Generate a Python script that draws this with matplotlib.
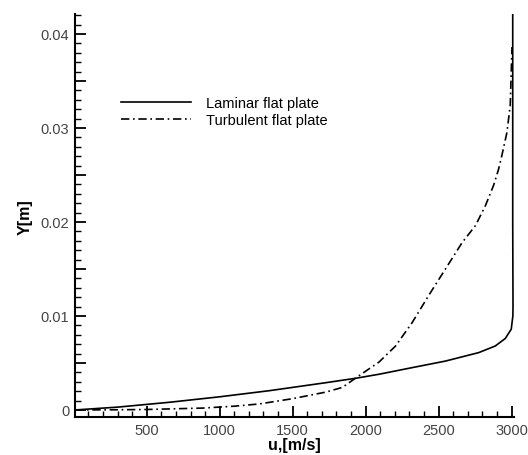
import matplotlib.pyplot as plt
import numpy as np
from matplotlib.ticker import MultipleLocator, FuncFormatter

plt.rcParams['font.family'] = ['Liberation Sans', 'DejaVu Sans']

# laminar flat plate profile
lam_u = [8, 300, 657, 1000, 1340, 1727, 1932, 2092, 2318, 2547, 2775, 2888,
         2957, 2998, 3009, 3010, 3008, 3008]
lam_y = [0.0, 0.0003, 0.00082, 0.0014, 0.00205, 0.0029, 0.00337, 0.0038,
         0.0045, 0.0052, 0.0061, 0.0068, 0.0076, 0.0086, 0.0100, 0.0111,
         0.0200, 0.0421]

# turbulent flat plate profile
turb_u = [8, 300, 500, 885, 1100, 1272, 1499, 1727, 1841, 1932, 2092, 2205,
          2319, 2433, 2547, 2661, 2752, 2820, 2877, 2911, 2934, 2968, 2991,
          3003]
turb_y = [0.0, 0.00002, 0.00005, 0.0002, 0.0004, 0.00064, 0.0012, 0.0019,
          0.0024, 0.0034, 0.0051, 0.0068, 0.0093, 0.0122, 0.0150, 0.0178,
          0.0196, 0.0217, 0.0239, 0.0256, 0.0271, 0.0295, 0.0324, 0.0386]

fig = plt.figure(figsize=(5.28, 4.56), dpi=100)
ax = fig.add_axes([0.142, 0.0827, 0.831, 0.884])

ax.plot(lam_u, lam_y, color='black', lw=1.2, label='Laminar flat plate')
ax.plot(turb_u, turb_y, color='black', lw=1.2, linestyle=(0, (5, 2.2, 1, 2.2)),
        label='Turbulent flat plate')

ax.set_xlim(8, 3015)
ax.set_ylim(-0.00078, 0.0421)

ax.spines['top'].set_visible(False)
ax.spines['right'].set_visible(False)
ax.spines['left'].set_linewidth(1.5)
ax.spines['bottom'].set_linewidth(1.5)

ax.xaxis.set_major_locator(MultipleLocator(500))
ax.xaxis.set_minor_locator(MultipleLocator(100))
ax.yaxis.set_major_locator(MultipleLocator(0.005))
ax.yaxis.set_minor_locator(MultipleLocator(0.001))

def yfmt(v, pos):
    k = round(v / 0.005)
    if k % 2:
        return ''
    if k == 0:
        return '0'
    return '%.2f' % (k * 0.005)

ax.yaxis.set_major_formatter(FuncFormatter(yfmt))
ax.xaxis.set_major_formatter(FuncFormatter(lambda v, p: '%d' % v))

ax.tick_params(which='major', direction='in', length=8, width=1.3,
               labelsize=10.5, labelcolor='#444444', pad=4)
ax.tick_params(which='minor', direction='in', length=4.5, width=1.0)

ax.set_xlabel('u,[m/s]', fontsize=11.5, fontweight='bold', labelpad=0)
ax.set_ylabel('Y[m]', fontsize=11.5, fontweight='bold', labelpad=6)

ax.legend(loc='upper left', bbox_to_anchor=(0.075, 0.83), frameon=False,
          fontsize=10.5, handlelength=4.8, handletextpad=1.0, labelspacing=0.25)

fig.savefig('out.png', dpi=100)
